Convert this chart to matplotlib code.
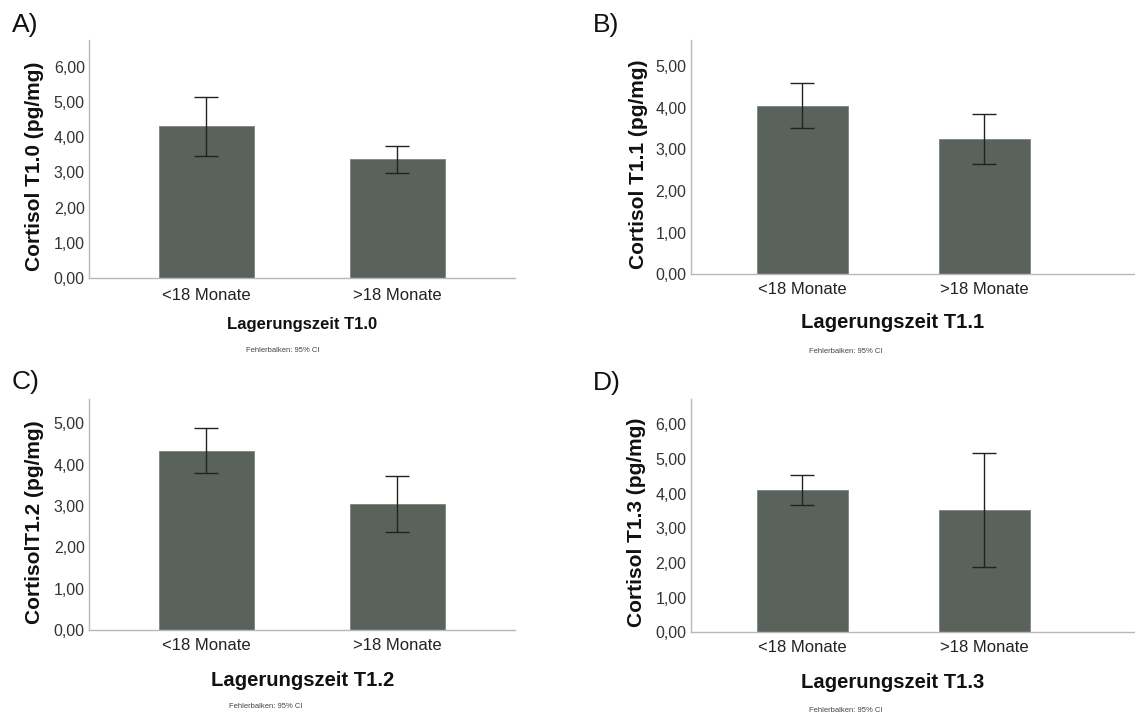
import matplotlib
matplotlib.use("Agg")
import matplotlib.pyplot as plt
from matplotlib.ticker import FuncFormatter

plt.rcParams['font.family'] = ['Liberation Sans', 'DejaVu Sans']

categories = ["<18 Monate", ">18 Monate"]

# Mittelwerte und 95%-Konfidenzintervalle je Zeitpunkt
means_t10 = [4.32, 3.37]
ci_low_t10 = [3.47, 2.99]
ci_high_t10 = [5.15, 3.76]

means_t11 = [4.04, 3.25]
ci_low_t11 = [3.50, 2.65]
ci_high_t11 = [4.60, 3.85]

means_t12 = [4.34, 3.05]
ci_low_t12 = [3.79, 2.37]
ci_high_t12 = [4.89, 3.73]

means_t13 = [4.10, 3.52]
ci_low_t13 = [3.66, 1.87]
ci_high_t13 = [4.55, 5.16]

panel_labels = ["A)", "B)", "C)", "D)"]
y_labels = ["Cortisol T1.0 (pg/mg)", "Cortisol T1.1 (pg/mg)",
            "CortisolT1.2 (pg/mg)", "Cortisol T1.3 (pg/mg)"]
x_labels = ["Lagerungszeit T1.0", "Lagerungszeit T1.1",
            "Lagerungszeit T1.2", "Lagerungszeit T1.3"]
y_ticks = [[0, 1, 2, 3, 4, 5, 6], [0, 1, 2, 3, 4, 5],
           [0, 1, 2, 3, 4, 5], [0, 1, 2, 3, 4, 5, 6]]
y_tops = [6.76, 5.62, 5.58, 6.72]
footnote = "Fehlerbalken: 95% CI"

W, H = 1135, 720
fig = plt.figure(figsize=(W / 100, H / 100), dpi=100)


def px_box(left, right, top, bottom):
    return [left / W, 1 - bottom / H, (right - left) / W, (bottom - top) / H]


boxes = [
    px_box(89, 515, 40, 278),
    px_box(690.7, 1135, 40, 274.3),
    px_box(89, 515, 399.3, 630),
    px_box(690.7, 1135, 399.3, 632.3),
]
xlims = [(-0.614, 1.616), (-0.613, 1.83), (-0.614, 1.616), (-0.613, 1.83)]
xlabel_sizes = [12, 14.6, 14.6, 14.6]

# text anchor positions in pixels: panel label, y label, x label, footnote
panel_pos = [(12, 25), (593, 25), (12, 382), (593, 383)]
ylab_pos = [(35, 166), (638, 164), (35, 522), (637, 522)]
xlab_pos = [(302, 325), (893, 323), (303, 680), (893, 683)]
foot_pos = [(283, 350), (846, 351), (266, 707), (846, 710)]
cat_y = [295, 290, 646, 648]

data = [
    (means_t10, ci_low_t10, ci_high_t10),
    (means_t11, ci_low_t11, ci_high_t11),
    (means_t12, ci_low_t12, ci_high_t12),
    (means_t13, ci_low_t13, ci_high_t13),
]

bar_color = "#5a625c"
fmt = FuncFormatter(lambda v, p: f"{v:.2f}".replace(".", ","))

for i, (means, lo, hi) in enumerate(data):
    ax = fig.add_axes(boxes[i])
    xs = list(range(len(categories)))
    ax.bar(xs, means, width=0.5, color=bar_color, edgecolor="#7d847f",
           linewidth=0.6, zorder=2)
    yerr = [[m - l for m, l in zip(means, lo)], [h - m for m, h in zip(means, hi)]]
    ax.errorbar(xs, means, yerr=yerr, fmt="none", ecolor="#1f2420",
                elinewidth=1.0, capsize=8.6, capthick=1.0, zorder=3)
    ax.set_xlim(*xlims[i])
    ax.set_ylim(0, y_tops[i])
    ax.set_yticks(y_ticks[i])
    ax.yaxis.set_major_formatter(fmt)
    ax.set_xticks(xs)
    ax.set_xticklabels([])
    ax.tick_params(axis="both", length=0, labelsize=11.5, labelcolor="#333333", pad=3)
    for s in ("top", "right"):
        ax.spines[s].set_visible(False)
    for s in ("left", "bottom"):
        ax.spines[s].set_color("#b8b8b8")
        ax.spines[s].set_linewidth(1.0)

    # category labels
    for x, c in zip(xs, categories):
        xp = ax.transData.transform((x, 0))[0]
        fig.text(xp / W, 1 - cat_y[i] / H, c, ha="center", va="center",
                 fontsize=12, color="#222222")

    fig.text(panel_pos[i][0] / W, 1 - panel_pos[i][1] / H, panel_labels[i],
             ha="left", va="center", fontsize=19, color="#111111")
    fig.text(ylab_pos[i][0] / W, 1 - ylab_pos[i][1] / H, y_labels[i],
             ha="center", va="center", rotation=90, fontsize=15,
             fontweight="bold", color="#111111")
    fig.text(xlab_pos[i][0] / W, 1 - xlab_pos[i][1] / H, x_labels[i],
             ha="center", va="center", fontsize=xlabel_sizes[i],
             fontweight="bold", color="#111111")
    fig.text(foot_pos[i][0] / W, 1 - foot_pos[i][1] / H, footnote,
             ha="center", va="center", fontsize=5.5, color="#444444")

fig.savefig("out.png", dpi=100, facecolor="white")
